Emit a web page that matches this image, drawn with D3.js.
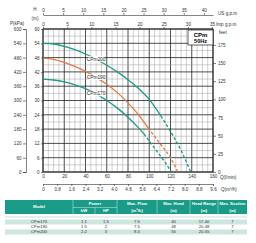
<!DOCTYPE html>
<html>
<head>
<meta charset="utf-8">
<title>CPm 50Hz</title>
<script src="https://d3js.org/d3.v7.min.js"></script>
<style>
  body { margin: 0; background: #fff; }
  svg { font-family: "Liberation Sans", Arial, sans-serif; }
  .tk text { font-size: 4.6px; fill: #333; }
  .tk line, .tk path { stroke: #333; stroke-width: 0.6; }
</style>
</head>
<body>
<svg id="chart" width="256" height="243"></svg>
<script>
// curves, Q in l/min, H in m
var qSolid200 = [0, 10, 20, 30, 40, 50, 60, 70, 80, 90, 100, 111];
var hSolid200 = [54, 53.7, 52.7, 51.3, 49.5, 47.3, 44.8, 42, 38.7, 35, 30.5, 23.5];
var qDash200 = [111, 120, 130, 139];
var hDash200 = [23.5, 17, 9, 0];

var qSolid190 = [0, 10, 20, 30, 40, 50, 60, 70, 80, 90, 99];
var hSolid190 = [47.8, 47.3, 46, 44.3, 42.2, 39.7, 36.8, 33.3, 29, 24, 18.5];
var qDash190 = [99, 110, 120, 127];
var hDash190 = [18.5, 12, 6, 0];

var qSolid170 = [0, 10, 20, 30, 40, 50, 60, 70, 80, 90, 95];
var hSolid170 = [39, 38.6, 37.8, 36.6, 35, 32.8, 30, 26.8, 23, 18.5, 16];
var qDash170 = [95, 105, 115, 121];
var hDash170 = [16, 10, 4, 0];

var labelQ = 50;

var models = ["CPm170", "CPm190", "CPm200"];
var powerKw = ["1.1", "1.5", "2.2"];
var powerHp = ["1.5", "2", "3"];
var maxFlow = ["7.5", "7.5", "8.4"];
var maxHead = ["40", "48", "55"];
var headRange = ["17-40", "20-48", "20-55"];
var maxSuction = ["7", "7", "7"];

var teal = "#1a9b88", orange = "#e07a45";

var svg = d3.select("#chart");

var x = d3.scaleLinear().domain([0, 160]).range([43, 213]);
var y = d3.scaleLinear().domain([0, 60]).range([172, 29]);
var yP = d3.scaleLinear().domain([0, 600]).range([172, 29]);
var yFt = d3.scaleLinear().domain([0, 60 * 3.2808]).range([172, 29]);
var xUs = d3.scaleLinear().domain([0, 160 / 3.7854]).range([43, 213]);
var xImp = d3.scaleLinear().domain([0, 160 / 4.5461]).range([43, 213]);
var xM3 = d3.scaleLinear().domain([0, 9.6]).range([43, 213]);

// grid
var grid = svg.append("g");
grid.selectAll(".vminor").data(d3.range(0, 161, 5)).enter().append("line")
  .attr("x1", d => x(d)).attr("x2", d => x(d)).attr("y1", y(0)).attr("y2", y(60))
  .attr("stroke", d => d % 20 == 0 ? "#222" : "#8a8a8a")
  .attr("stroke-width", d => d % 20 == 0 ? 0.8 : 0.4);
grid.selectAll(".hminor").data(d3.range(0, 61, 3)).enter().append("line")
  .attr("y1", d => y(d)).attr("y2", d => y(d)).attr("x1", x(0)).attr("x2", x(160))
  .attr("stroke", d => d % 6 == 0 ? "#222" : "#8a8a8a")
  .attr("stroke-width", d => d % 6 == 0 ? 0.8 : 0.4);
grid.append("rect").attr("x", x(0)).attr("y", y(60))
  .attr("width", x(160) - x(0)).attr("height", y(0) - y(60))
  .attr("fill", "none").attr("stroke", "#222").attr("stroke-width", 0.9);

// curves
var line = d3.line().x(d => x(d[0])).y(d => y(d[1])).curve(d3.curveMonotoneX);
function pts(q, h) { return q.map((v, i) => [v, h[i]]); }

var curves = [
  { name: "CPm200", qs: qSolid200, hs: hSolid200, qd: qDash200, hd: hDash200, col: teal },
  { name: "CPm190", qs: qSolid190, hs: hSolid190, qd: qDash190, hd: hDash190, col: orange },
  { name: "CPm170", qs: qSolid170, hs: hSolid170, qd: qDash170, hd: hDash170, col: teal }
];

curves.forEach(function(c) {
  svg.append("path").attr("d", line(pts(c.qs, c.hs)))
    .attr("fill", "none").attr("stroke", c.col).attr("stroke-width", 1.3);
  svg.append("path").attr("d", line(pts(c.qd, c.hd)))
    .attr("fill", "none").attr("stroke", c.col).attr("stroke-width", 1.3)
    .attr("stroke-dasharray", "3,2");
  var hl = d3.scaleLinear().domain(c.qs).range(c.hs)(labelQ);
  svg.append("rect").attr("x", x(labelQ) - 8.5).attr("y", y(hl) - 3)
    .attr("width", 17).attr("height", 5.5).attr("fill", "#fff");
  svg.append("text").attr("x", x(labelQ)).attr("y", y(hl) + 1.6)
    .attr("text-anchor", "middle").attr("font-size", 4.8).attr("fill", "#222")
    .text(c.name);
});

// axes
svg.append("g").attr("class", "tk").attr("transform", "translate(" + x(0) + ",0)")
  .call(d3.axisLeft(y).tickValues(d3.range(0, 61, 6)).tickSize(2).tickPadding(1.5))
  .call(g => g.select(".domain").remove());

svg.append("g").attr("class", "tk").attr("transform", "translate(26,0)")
  .call(d3.axisLeft(yP).tickValues(d3.range(0, 601, 60)).tickSize(3).tickPadding(1.5));

svg.append("g").attr("class", "tk").attr("transform", "translate(" + x(160) + ",0)")
  .call(d3.axisRight(yFt).tickValues(d3.range(0, 176, 25)).tickSize(3).tickPadding(2))
  .call(g => g.select(".domain").remove());

svg.append("g").attr("class", "tk").attr("transform", "translate(0," + y(0) + ")")
  .call(d3.axisBottom(x).tickValues(d3.range(0, 161, 20)).tickSize(0).tickPadding(3))
  .call(g => g.select(".domain").remove());

svg.append("g").attr("class", "tk").attr("transform", "translate(0,184)")
  .call(d3.axisBottom(xM3).tickValues(d3.range(0, 13).map(i => i * 0.8))
    .tickFormat(d => d == 0 ? "0" : d3.format(".1f")(d)).tickSize(2).tickPadding(1.5).tickSizeOuter(0));

svg.append("g").attr("class", "tk").attr("transform", "translate(0," + y(60) + ")")
  .call(d3.axisTop(xImp).tickValues(d3.range(0, 36, 5)).tickSize(2).tickPadding(1.5))
  .call(g => g.select(".domain").remove());

svg.append("g").attr("class", "tk").attr("transform", "translate(0,15)")
  .call(d3.axisTop(xUs).tickValues(d3.range(0, 41, 5)).tickSize(2).tickPadding(1.5).tickSizeOuter(0));

// axis titles
var titles = [
  ["P(kPa)", 17, 25, "middle"], ["H", 35, 11, "middle"], ["(m)", 35, 20, "middle"],
  ["US g.p.m", 218, 15, "start"], ["Imp g.p.m", 216, 26, "start"], ["feet", 219, 34, "start"],
  ["Q(l/min)", 220, 178.5, "start"], ["Q(m\u00b3/h)", 221, 191, "start"]
];
svg.selectAll(".ttl").data(titles).enter().append("text")
  .attr("x", d => d[1]).attr("y", d => d[2]).attr("text-anchor", d => d[3])
  .attr("font-size", 4.6).attr("fill", "#333").text(d => d[0]);

// model box
svg.append("rect").attr("x", 188).attr("y", 30).attr("width", 25).attr("height", 15)
  .attr("fill", "#fff").attr("stroke", "#222").attr("stroke-width", 0.7);
svg.append("text").attr("x", 200.5).attr("y", 37).attr("text-anchor", "middle")
  .attr("font-size", 6).attr("font-weight", "bold").text("CPm");
svg.append("text").attr("x", 200.5).attr("y", 43).attr("text-anchor", "middle")
  .attr("font-size", 5.5).attr("font-weight", "bold").text("50Hz");

// table
var tb = svg.append("g");
var colX = [5, 73, 95, 117, 157, 190, 218, 247];
tb.append("rect").attr("x", 5).attr("y", 200).attr("width", 242).attr("height", 14).attr("fill", teal);
[73, 117, 157, 190, 218].forEach(function(cx) {
  tb.append("line").attr("x1", cx).attr("x2", cx).attr("y1", 200).attr("y2", 214)
    .attr("stroke", "#fff").attr("stroke-width", 0.4);
});
tb.append("line").attr("x1", 95).attr("x2", 95).attr("y1", 207.5).attr("y2", 214)
  .attr("stroke", "#fff").attr("stroke-width", 0.4);
tb.append("line").attr("x1", 73).attr("x2", 117).attr("y1", 207.5).attr("y2", 207.5)
  .attr("stroke", "#fff").attr("stroke-width", 0.4);

var heads = [
  ["Model", 39, 208], ["Power", 95, 205], ["kW", 84, 212], ["HP", 106, 212],
  ["Max. Flow", 137, 205], ["(m\u00b3/h)", 137, 212], ["Max. Head", 173.5, 205], ["(m)", 173.5, 212],
  ["Head Range", 204, 205], ["(m)", 204, 212], ["Max. Suction", 232.5, 205], ["(m)", 232.5, 212]
];
tb.selectAll(".hd").data(heads).enter().append("text")
  .attr("x", d => d[1]).attr("y", d => d[2]).attr("text-anchor", "middle")
  .attr("font-size", 4.2).attr("font-weight", "bold").attr("fill", "#fff").text(d => d[0]);

tb.append("rect").attr("x", 5).attr("y", 216).attr("width", 242).attr("height", 2).attr("fill", "#e3efec");

var cols = [models, powerKw, powerHp, maxFlow, maxHead, headRange, maxSuction];
models.forEach(function(m, i) {
  var ry = 219.5 + i * 5;
  if (i % 2 == 0) tb.append("rect").attr("x", 5).attr("y", ry).attr("width", 242).attr("height", 5).attr("fill", "#cfe5df");
  cols.forEach(function(col, j) {
    tb.append("text").attr("x", (colX[j] + colX[j + 1]) / 2).attr("y", ry + 3.7)
      .attr("text-anchor", "middle").attr("font-size", 4.2).attr("fill", "#333").text(col[i]);
  });
});
</script>
</body>
</html>
